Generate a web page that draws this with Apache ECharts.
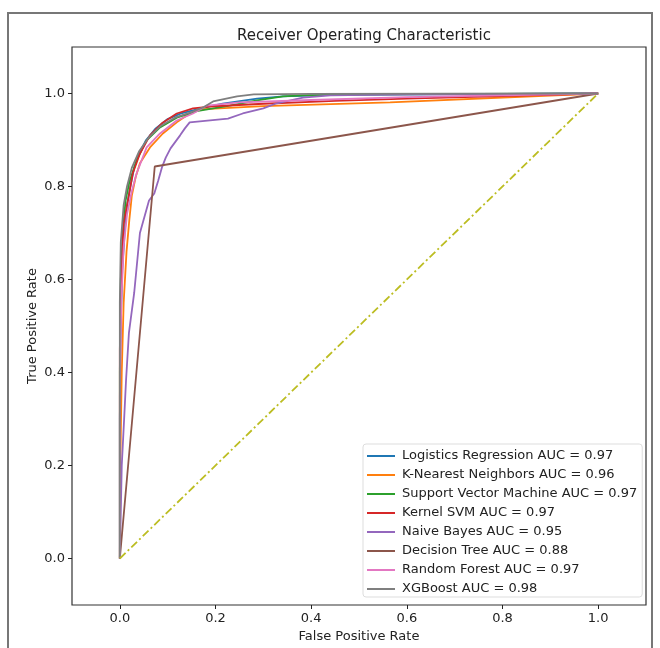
<!DOCTYPE html>
<html><head><meta charset="utf-8">
<script src="https://cdn.jsdelivr.net/npm/echarts@6/dist/echarts.min.js"></script>
<style>html,body{margin:0;padding:0;background:#fff}#c{width:660px;height:648px}</style>
</head><body><div id="c"></div>
<script>
const seriesNames = [
  "Logistics Regression AUC = 0.97",
  "K-Nearest Neighbors AUC = 0.96",
  "Support Vector Machine AUC = 0.97",
  "Kernel SVM AUC = 0.97",
  "Naive Bayes AUC = 0.95",
  "Decision Tree AUC = 0.88",
  "Random Forest AUC = 0.97",
  "XGBoost AUC = 0.98"
];
const colors = ["#1f77b4","#ff7f0e","#2ca02c","#d62728","#9467bd","#8c564b","#e377c2","#7f7f7f"];
const rocLR = [[0,0],[0,0.3],[0.002,0.5],[0.005,0.62],[0.01,0.7],[0.015,0.76],[0.022,0.8],[0.03,0.84],[0.04,0.87],[0.055,0.9],[0.075,0.925],[0.1,0.945],[0.13,0.958],[0.17,0.968],[0.215,0.978],[0.287,0.989],[0.341,0.994],[0.45,0.997],[1,1]];
const rocKNN = [[0,0],[0.001,0.2],[0.004,0.4],[0.008,0.55],[0.014,0.66],[0.02,0.73],[0.025,0.78],[0.033,0.82],[0.042,0.85],[0.063,0.884],[0.09,0.914],[0.119,0.938],[0.146,0.957],[0.167,0.966],[0.3,0.973],[0.565,0.981],[1,1]];
const rocSVM = [[0,0],[0,0.4],[0.002,0.6],[0.006,0.7],[0.012,0.77],[0.02,0.81],[0.035,0.856],[0.056,0.899],[0.084,0.927],[0.119,0.948],[0.161,0.962],[0.23,0.974],[0.287,0.985],[0.341,0.994],[0.383,0.996],[0.5,0.998],[1,1]];
const rocKSVM = [[0,0],[0,0.45],[0.003,0.62],[0.008,0.72],[0.017,0.77],[0.027,0.828],[0.042,0.871],[0.063,0.91],[0.088,0.936],[0.119,0.957],[0.153,0.968],[0.188,0.972],[0.3,0.978],[0.45,0.984],[0.6,0.989],[1,1]];
const rocNB = [[0,0],[0.004,0.2],[0.009,0.3],[0.013,0.384],[0.019,0.485],[0.03,0.571],[0.042,0.7],[0.061,0.77],[0.072,0.785],[0.08,0.812],[0.088,0.841],[0.096,0.862],[0.106,0.882],[0.116,0.896],[0.126,0.91],[0.136,0.925],[0.146,0.938],[0.226,0.946],[0.257,0.957],[0.3,0.968],[0.328,0.979],[0.383,0.991],[0.44,0.996],[0.6,0.998],[1,1]];
const rocDT = [[0,0],[0.073,0.843],[1,1]];
const rocRF = [[0,0],[0,0.35],[0.003,0.55],[0.008,0.67],[0.015,0.74],[0.025,0.79],[0.035,0.828],[0.056,0.884],[0.084,0.914],[0.119,0.942],[0.153,0.957],[0.182,0.974],[0.25,0.981],[0.4,0.986],[0.6,0.992],[1,1]];
const rocXGB = [[0,0],[0,0.55],[0.002,0.68],[0.008,0.76],[0.015,0.8],[0.025,0.84],[0.04,0.875],[0.06,0.905],[0.085,0.93],[0.115,0.948],[0.15,0.96],[0.174,0.97],[0.195,0.983],[0.245,0.994],[0.28,0.998],[0.4,0.999],[1,1]];
const chance = [[0,0],[1,1]];
const tickValues = [0,0.2,0.4,0.6,0.8,1.0];
const tickLabels = ["0.0","0.2","0.4","0.6","0.8","1.0"];

const rocData = [rocLR, rocKNN, rocSVM, rocKSVM, rocNB, rocDT, rocRF, rocXGB];
const font = "DejaVu Sans";
const series = rocData.map((d, i) => ({
  name: seriesNames[i], type: 'line', data: d, showSymbol: false, symbol: 'none',
  lineStyle: {color: colors[i], width: 1.8}, itemStyle: {color: colors[i]},
  animation: false, z: 2 + i * 0.01
}));
series.push({
  name: 'chance', type: 'line', data: chance, showSymbol: false, symbol: 'none',
  lineStyle: {color: '#bcbd22', width: 1.8, type: [8, 3, 2, 3]}, animation: false
});

function axis(name, gap) {
  return {
    type: 'value', min: -0.1, max: 1.1, name: name, nameLocation: 'middle', nameGap: gap,
    nameMoveOverlap: false,
    nameTextStyle: {fontFamily: font, fontSize: 13, color: '#222'},
    splitLine: {show: false},
    axisLine: {show: false, onZero: false},
    axisTick: {show: true, inside: false, length: 4, customValues: tickValues, lineStyle: {color: '#222'}},
    axisLabel: {customValues: tickValues, fontFamily: font, fontSize: 13, color: '#222', margin: 7,
      formatter: v => tickLabels[tickValues.findIndex(t => Math.abs(t - v) < 1e-9)] ?? ''}
  };
}

const chart = echarts.init(document.getElementById('c'), null, {renderer: 'canvas'});
chart.setOption({
  animation: false,
  title: {text: 'Receiver Operating Characteristic', left: 359, top: 24, textAlign: 'center',
    textStyle: {fontFamily: font, fontSize: 15, fontWeight: 'normal', color: '#222'}},
  grid: {left: 72, top: 47, right: 14, bottom: 43, show: true, borderColor: '#333', borderWidth: 1.2, backgroundColor: 'transparent'},
  xAxis: axis('False Positive Rate', 25),
  yAxis: axis('True Positive Rate', 33),
  legend: {
    data: seriesNames, orient: 'vertical', left: 363, top: 444,
    padding: [5, 5, 1, 4], itemGap: 5, itemWidth: 28, itemHeight: 2, icon: 'rect',
    backgroundColor: '#fff', borderColor: '#ddd', borderWidth: 1, borderRadius: 3,
    textStyle: {fontFamily: font, fontSize: 13, color: '#222', lineHeight: 14, padding: [0, 0, 0, 2]}
  },
  graphic: [{type: 'rect', silent: true, shape: {x: 8, y: 13, width: 644, height: 660},
    style: {fill: 'none', stroke: '#777', lineWidth: 2}}],
  series: series
});
</script></body></html>
